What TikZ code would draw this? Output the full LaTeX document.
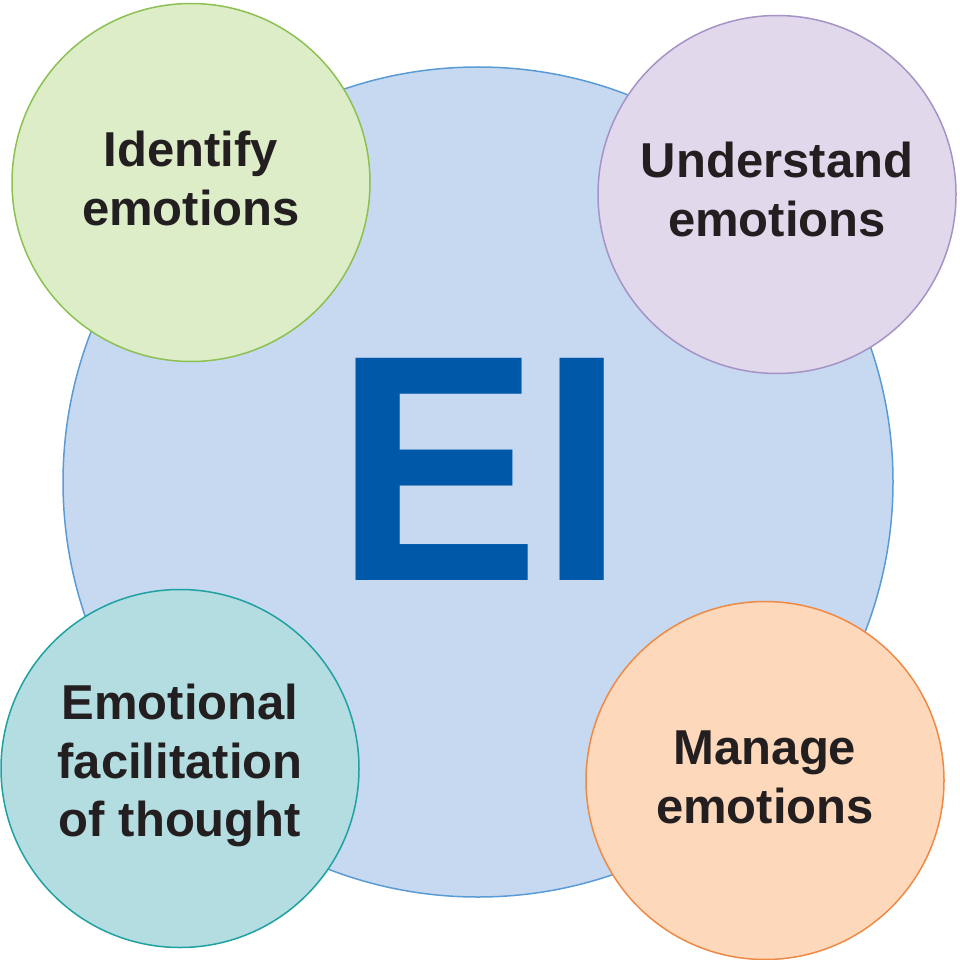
\documentclass[tikz,border=0pt]{standalone}
\usepackage{fontspec}
\setmainfont{Liberation Sans}
\usetikzlibrary{positioning}
\definecolor{eiblue}{HTML}{0058A9}
\definecolor{bigfill}{HTML}{C6D9F1}
\definecolor{bigline}{HTML}{5B9BD5}
\definecolor{greenfill}{HTML}{DCEDC8}
\definecolor{greenline}{HTML}{8CC152}
\definecolor{purplefill}{HTML}{E1D8EC}
\definecolor{purpleline}{HTML}{A593C6}
\definecolor{tealfill}{HTML}{B3DDE0}
\definecolor{tealline}{HTML}{1FA1A1}
\definecolor{orangefill}{HTML}{FDD8BA}
\definecolor{orangeline}{HTML}{EE8A45}
\definecolor{labeltext}{HTML}{231F20}
\tikzset{
  skill/.style={circle, inner sep=0pt, minimum size=358pt, line width=1.5pt},
  skilltext/.style={align=center, inner sep=0pt, text=labeltext,
    font=\fontsize{49}{58.7}\selectfont\bfseries}
}

\begin{document}
\begin{tikzpicture}[x=1pt, y=-1pt]
  \useasboundingbox (0,0) rectangle (960,960);

  % central circle
  \node [circle, inner sep=0pt, minimum size=830pt, line width=1.5pt,
    fill=bigfill, draw=bigline] (ei) at (478,482) {};
  \node [anchor=base, text=eiblue, xscale=0.95,
    font=\fontsize{323}{323}\selectfont\bfseries] (eilabel) at (480,580) {EI};

  % the four branches
  \node [skill, fill=greenfill, draw=greenline] (identify) at (191,182.5) {};
  \node [skill, fill=purplefill, draw=purpleline] (understand) at (777,194.5) {};
  \node [skill, fill=tealfill, draw=tealline] (facilitate) at (180,768.5) {};
  \node [skill, fill=orangefill, draw=orangeline] (manage) at (765,780.5) {};

  \node [skilltext] (identifytext) at ([yshift=4pt]identify.center)
    {Identify\\emotions};
  \node [skilltext] (understandtext) at ([yshift=5pt]understand.center)
    {Understand\\emotions};
  \node [skilltext] (facilitatetext) at ([yshift=3pt]facilitate.center)
    {Emotional\\facilitation\\of thought};
  \node [skilltext] (managetext) at ([yshift=3pt]manage.center)
    {Manage\\emotions};
\end{tikzpicture}
\end{document}
